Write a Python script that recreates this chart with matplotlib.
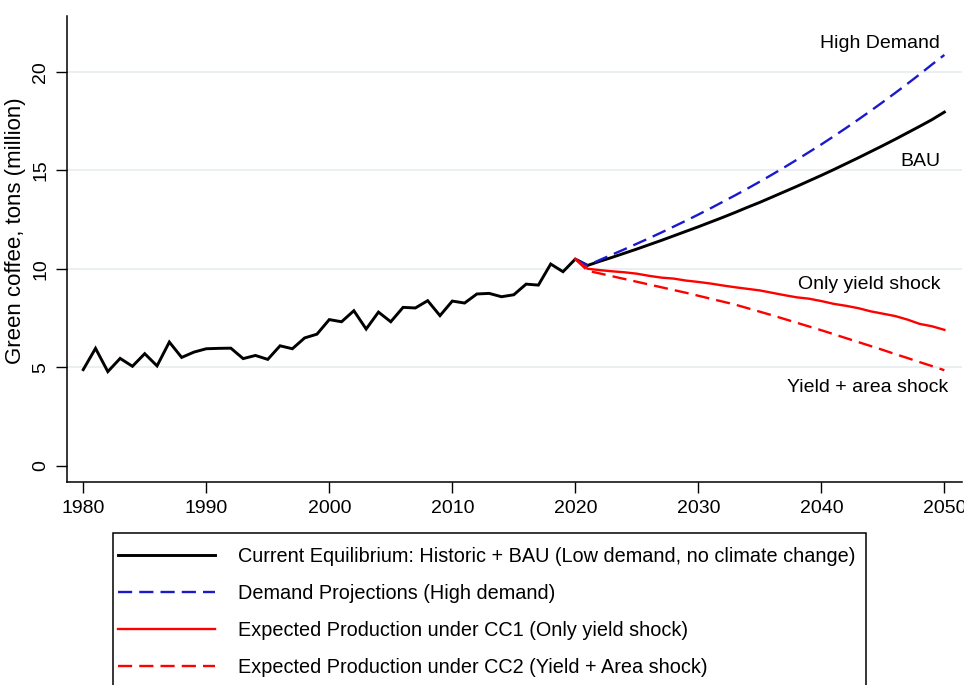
import matplotlib
matplotlib.use("Agg")
import matplotlib.pyplot as plt
from matplotlib.patches import Rectangle

plt.rcParams['font.family'] = ['Liberation Sans', 'DejaVu Sans']

# Historic green coffee production, million tons
years_hist = list(range(1980, 2021))
prod_hist = [4.88, 5.96, 4.78, 5.45, 5.05, 5.69, 5.07, 6.28, 5.50, 5.77,
             5.94, 5.96, 5.97, 5.44, 5.60, 5.40, 6.09, 5.94, 6.49, 6.68,
             7.42, 7.31, 7.87, 6.94, 7.80, 7.31, 8.04, 8.01, 8.38, 7.62,
             8.36, 8.26, 8.72, 8.75, 8.58, 8.68, 9.22, 9.17, 10.24, 9.85,
             10.49]

# Projections 2021-2050
years_proj = list(range(2021, 2051))
bau = [10.17, 10.38, 10.58, 10.79, 11.00, 11.22, 11.44, 11.67, 11.90, 12.13,
       12.37, 12.61, 12.86, 13.12, 13.37, 13.64, 13.91, 14.18, 14.46, 14.74,
       15.03, 15.33, 15.63, 15.94, 16.25, 16.57, 16.90, 17.23, 17.57, 17.95]
high_demand = [10.17, 10.45, 10.72, 10.99, 11.27, 11.55, 11.84, 12.14, 12.44, 12.75,
               13.07, 13.40, 13.73, 14.07, 14.42, 14.78, 15.15, 15.53, 15.92, 16.31,
               16.72, 17.14, 17.57, 18.01, 18.46, 18.92, 19.39, 19.87, 20.37, 20.85]
cc1_yield = [10.00, 9.93, 9.87, 9.82, 9.75, 9.64, 9.55, 9.50, 9.40, 9.33,
             9.25, 9.15, 9.06, 8.98, 8.90, 8.78, 8.66, 8.55, 8.48, 8.36,
             8.22, 8.12, 8.00, 7.84, 7.72, 7.60, 7.42, 7.20, 7.08, 6.90]
cc2_yield_area = [9.90, 9.76, 9.62, 9.48, 9.34, 9.20, 9.06, 8.92, 8.78, 8.63,
                  8.48, 8.33, 8.18, 8.00, 7.82, 7.64, 7.45, 7.26, 7.07, 6.88,
                  6.68, 6.48, 6.28, 6.08, 5.88, 5.67, 5.47, 5.26, 5.06, 4.85]

legend_labels = [
    "Current Equilibrium: Historic + BAU (Low demand, no climate change)",
    "Demand Projections (High demand)",
    "Expected Production under CC1 (Only yield shock)",
    "Expected Production under CC2 (Yield + Area shock)",
]
x_ticks = [1980, 1990, 2000, 2010, 2020, 2030, 2040, 2050]
y_ticks = [0, 5, 10, 15, 20]

BLUE = "#1a1acc"
RED = "#ff0000"
DASH = (0, (6, 3))
W, H = 964, 685

fig = plt.figure(figsize=(W / 100, H / 100), dpi=100)
ax = fig.add_axes([0.070, 0.297, 0.928, 0.680])

# every projection starts from the last observed year
x_proj = [years_hist[-1]] + years_proj
start = prod_hist[-1]

l_hist, = ax.plot(years_hist + years_proj, prod_hist + bau, color="black",
                  lw=2.1, solid_joinstyle="miter", zorder=3)
l_hd, = ax.plot(x_proj, [start] + high_demand, color=BLUE, lw=1.7,
                ls=DASH, zorder=4)
l_cc1, = ax.plot(x_proj, [start] + cc1_yield, color=RED, lw=1.7, zorder=5)
l_cc2, = ax.plot(x_proj, [start] + cc2_yield_area, color=RED, lw=1.7,
                 ls=DASH, zorder=5)

ax.set_xlim(1978.72, 2051.44)
ax.set_ylim(-0.80, 22.84)
ax.set_xticks(x_ticks)
ax.set_yticks(y_ticks)
ax.set_yticklabels([str(v) for v in y_ticks], rotation=90, va="center")

for v in y_ticks[1:]:
    ax.axhline(v, color="#e4ebef", lw=1.1, zorder=1)

for side in ("top", "right"):
    ax.spines[side].set_visible(False)
for side in ("left", "bottom"):
    ax.spines[side].set_linewidth(1.1)
ax.tick_params(axis="both", labelsize=14, length=8, width=1.0, colors="black")
ax.tick_params(axis="y", pad=5)
ax.tick_params(axis="x", pad=5)

ax.set_ylabel("Green coffee, tons (million)", fontsize=16)
ax.yaxis.set_label_coords(-0.046, 0.538)

# scenario labels at the end of each projection
ax.text(2049.65, 21.42, "High Demand", ha="right", va="center", fontsize=14)
ax.text(2049.65, 15.42, "BAU", ha="right", va="center", fontsize=14)
ax.text(2049.65, 9.21, "Only yield shock", ha="right", va="center", fontsize=14)
ax.text(2050.3, 3.99, "Yield + area shock", ha="right", va="center", fontsize=14)

# legend box runs past the lower edge of the figure
fig.patches.append(Rectangle((113 / W, -0.2), (866 - 113) / W, 0.2 + 1 - 533 / H,
                             transform=fig.transFigure, fill=False,
                             edgecolor="black", lw=1.1, zorder=10))
leg = fig.legend([l_hist, l_hd, l_cc1, l_cc2], legend_labels,
                 loc="upper left", bbox_to_anchor=(118 / W, 1 - 547 / H),
                 borderaxespad=0, borderpad=0, frameon=False,
                 prop={"size": 14.3},
                 handlelength=4.88, handletextpad=1.16, labelspacing=0.91)

fig.savefig("out.png", dpi=100)
